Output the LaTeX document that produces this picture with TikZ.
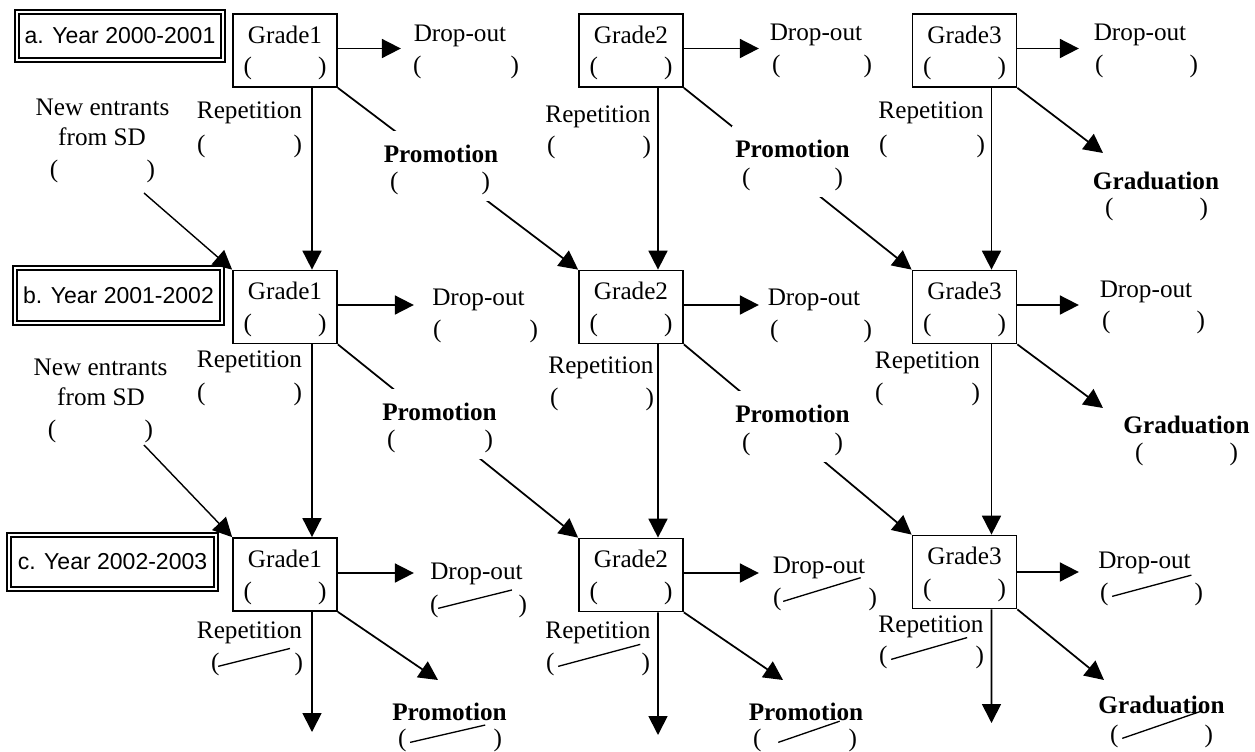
\documentclass[tikz,border=0pt]{standalone}
\usepackage{fontspec}
\setmainfont{Liberation Serif}
\newfontfamily\yearfont{Liberation Sans}
\usepackage{graphicx}
\usetikzlibrary{arrows.meta}

% one drawing unit
\newlength\pxu
\setlength\pxu{0.02cm}
% empty brackets of a given width
\newcommand\pbox[1]{\makebox[#1\pxu]{(\hfill)}}
% brackets with a stroke through them: width, offset, stroke length, angle
\newcommand\slashed[4]{\makebox[#1\pxu]{(\hspace*{\dimexpr#2\pxu-8.4\pxu\relax}\raisebox{3\pxu}{\rotatebox{#4}{\rule{#3\pxu}{0.75pt}}}\hfill)}}
% a flow label: name, style, word, x, y, bracket x, bracket y, bracket style, bracket content
\newcommand\flowlabel[9]{%
  \node[#2, anchor=base] (#1) at (#4,#5) {#3};
  \node[lab, anchor=base, #8] (#1-p) at (#6,#7) {#9};}
% a grade box: name, x, y, grade number
\newcommand\grade[4]{%
  \node[gbox] (#1) at (#2,#3) {};
  \node[lab, anchor=base] (#1-t) at ([yshift=0.15cm]#1.center) {Grade#4};
  \node[lab, anchor=base] (#1-p) at ([yshift=-0.49cm]#1.center) {\pbox{83}};}

\begin{document}
\begin{tikzpicture}[x=0.02cm, y=-0.02cm,
  lab/.style={font=\fontsize{14.35}{17}\selectfont, inner sep=0pt},
  blab/.style={lab, font=\fontsize{14.35}{17}\selectfont\bfseries},
  gbox/.style={draw, line width=1pt, minimum width=2.08cm, minimum height=1.46cm, inner sep=0pt},
  yearbox/.style={draw, double, line width=1.1pt, double distance=1.1pt,
    font=\yearfont\fontsize{13.1}{15}\selectfont, inner sep=0pt},
  arr/.style={line width=1pt, -{Triangle[length=0.38cm, width=0.38cm]}},
  thinarr/.style={arr, line width=0.8pt},
  maskw/.style={fill=white, inner xsep=0.06cm, inner ysep=0.28cm},
  maskp/.style={fill=white, inner xsep=0.06cm, inner ysep=0.14cm}]

\useasboundingbox (0,0) rectangle (1255,751);

% school years
\node[yearbox, minimum width=4.12cm, minimum height=0.96cm] (Ya) at (120,36) {a. Year 2000-2001};
\node[yearbox, minimum width=4.14cm, minimum height=1.10cm] (Yb) at (118.5,295.5) {b. Year 2001-2002};
\node[yearbox, minimum width=4.14cm, minimum height=1.08cm] (Yc) at (112.5,562) {c. Year 2002-2003};

% grade boxes
\grade{G1a}{285}{50.5}{1}
\grade{G2a}{631}{50.5}{2}
\grade{G3a}{964.5}{50.5}{3}
\grade{G1b}{285}{307}{1}
\grade{G2b}{631}{307}{2}
\grade{G3b}{964.5}{307}{3}
\grade{G1c}{285}{574.5}{1}
\grade{G2c}{631}{575}{2}
\grade{G3c}{964.5}{572}{3}

% repetition: same grade, next year
\draw[arr] ([xshift=0.54cm]G1a.south) -- ([xshift=0.54cm]G1b.north);
\draw[arr] ([xshift=0.54cm]G2a.south) -- ([xshift=0.54cm]G2b.north);
\draw[arr] ([xshift=0.54cm]G3a.south) -- ([xshift=0.54cm]G3b.north);
\draw[arr] ([xshift=0.54cm]G1b.south) -- ([xshift=0.54cm]G1c.north);
\draw[arr] ([xshift=0.54cm]G2b.south) -- ([xshift=0.54cm]G2c.north);
\draw[arr] ([xshift=0.54cm]G3b.south) -- ([xshift=0.54cm]G3c.north);
\coordinate (E1) at (312,732);
\coordinate (E2) at (658,735);
\coordinate (E3) at (991.5,723);
\draw[arr] ([xshift=0.54cm]G1c.south) -- (E1);
\draw[arr] ([xshift=0.54cm]G2c.south) -- (E2);
\draw[arr] ([xshift=0.54cm]G3c.south) -- (E3);

% drop-out
\draw[arr] ([yshift=0.04cm]G1a.east) -- ++(63,0);
\draw[arr] ([yshift=0.04cm]G2a.east) -- ++(75,0);
\draw[arr] ([yshift=0.04cm]G3a.east) -- ++(61.5,0);
\draw[arr] ([yshift=0.04cm]G1b.east) -- ++(76,0);
\draw[arr] ([yshift=0.04cm]G2b.east) -- ++(75,0);
\draw[arr] ([yshift=0.04cm]G3b.east) -- ++(61.5,0);
\draw[arr] ([yshift=0.03cm]G1c.east) -- ++(76,0);
\draw[arr] ([yshift=0.04cm]G2c.east) -- ++(75,0);
\draw[arr] (G3c.east) -- ++(61.5,0);

% promotion: next grade, next year
\draw[arr] (G1a.south east) -- (G2b.north west);
\draw[arr] (G2a.south east) -- (G3b.north west);
\draw[arr] (G1b.south east) -- (G2c.north west);
\draw[arr] (G2b.south east) -- (G3c.north west);
\coordinate (PT1) at (438,680);
\coordinate (PT2) at (783,680);
\draw[arr] (G1c.south east) -- (PT1);
\draw[arr] (G2c.south east) -- (PT2);

% graduation
\coordinate (GT1) at (1103,153);
\coordinate (GT2) at (1103,408);
\coordinate (GT3) at (1104,680);
\draw[arr] (G3a.south east) -- (GT1);
\draw[arr] (G3b.south east) -- (GT2);
\draw[arr] (G3c.south east) -- (GT3);

% new entrants
\coordinate (NS1) at (144,193);
\coordinate (NS2) at (144,445);
\draw[thinarr] (NS1) -- (G1b.north west);
\draw[thinarr] (NS2) -- (G1c.north west);

\node[lab, anchor=base] (Na) at (102.5,115) {New entrants};
\node[lab, anchor=base] (Na-2) at (102,145) {from SD};
\node[lab, anchor=base] (Na-p) at (102.5,177) {\pbox{105}};
\node[lab, anchor=base] (Nb) at (100.5,375) {New entrants};
\node[lab, anchor=base] (Nb-2) at (101,405) {from SD};
\node[lab, anchor=base] (Nb-p) at (100.5,437) {\pbox{105}};

% drop-out labels
\flowlabel{D1a}{lab}{Drop-out}{460}{41}{466}{73}{}{\pbox{106}}
\flowlabel{D2a}{lab}{Drop-out}{816}{40}{822}{72}{}{\pbox{100}}
\flowlabel{D3a}{lab}{Drop-out}{1140}{40}{1146.5}{72}{}{\pbox{103}}
\flowlabel{D1b}{lab}{Drop-out}{478.5}{305}{485.5}{337}{}{\pbox{105}}
\flowlabel{D2b}{lab}{Drop-out}{814}{305}{821}{337}{}{\pbox{102}}
\flowlabel{D3b}{lab}{Drop-out}{1146}{297}{1153.5}{328}{}{\pbox{103}}
\flowlabel{D1c}{lab}{Drop-out}{476.5}{579}{478.5}{612}{}{\slashed{97}{8}{76}{14}}
\flowlabel{D2c}{lab}{Drop-out}{819}{573}{825}{605}{}{\slashed{104}{10}{81}{17}}
\flowlabel{D3c}{lab}{Drop-out}{1144.5}{568}{1151.5}{600}{}{\slashed{103}{12}{82}{15}}

% repetition labels
\flowlabel{R1a}{lab}{Repetition}{249.5}{118}{249.5}{152}{}{\pbox{105}}
\flowlabel{R2a}{lab}{Repetition}{598}{122}{599}{153}{}{\pbox{104}}
\flowlabel{R3a}{lab}{Repetition}{931}{118}{932}{152}{}{\pbox{106}}
\flowlabel{R1b}{lab}{Repetition}{249.5}{367}{249.5}{400}{}{\pbox{105}}
\flowlabel{R2b}{lab}{Repetition}{601}{373}{602}{405}{}{\pbox{104}}
\flowlabel{R3b}{lab}{Repetition}{927.5}{368}{927.5}{400}{}{\pbox{105}}
\flowlabel{R1c}{lab}{Repetition}{249.5}{638}{257}{670}{}{\slashed{92}{7}{74}{14}}
\flowlabel{R2c}{lab}{Repetition}{598}{638}{598}{670}{}{\slashed{104}{12}{85}{15}}
\flowlabel{R3c}{lab}{Repetition}{931}{632}{931.5}{663}{}{\slashed{105}{12}{79}{16}}

% promotion labels (set over their arrows)
\flowlabel{P1a}{blab, maskw}{Promotion}{441}{162}{440}{189}{maskp}{\pbox{100}}
\flowlabel{P2a}{blab, maskw}{Promotion}{792.5}{157}{792.5}{185}{maskp}{\pbox{101}}
\flowlabel{P1b}{blab, maskw}{Promotion}{439.5}{420}{440}{447}{maskp}{\pbox{106}}
\flowlabel{P2b}{blab, maskw}{Promotion}{792.5}{422}{792.5}{450}{maskp}{\pbox{101}}
\flowlabel{P1c}{blab}{Promotion}{449.5}{720}{450}{746}{}{\slashed{104}{12}{77}{13}}
\flowlabel{P2c}{blab}{Promotion}{806}{720}{805}{746}{}{\slashed{104}{25}{65}{19}}

% graduation labels
\flowlabel{GDa}{blab}{Graduation}{1156}{189}{1156.5}{215}{}{\pbox{103}}
\flowlabel{GDb}{blab}{Graduation}{1186.5}{433}{1186.5}{460}{}{\pbox{103}}
\flowlabel{GDc}{blab}{Graduation}{1161.5}{713}{1161.5}{742}{}{\slashed{103}{12}{84}{19}}

\end{tikzpicture}
\end{document}
